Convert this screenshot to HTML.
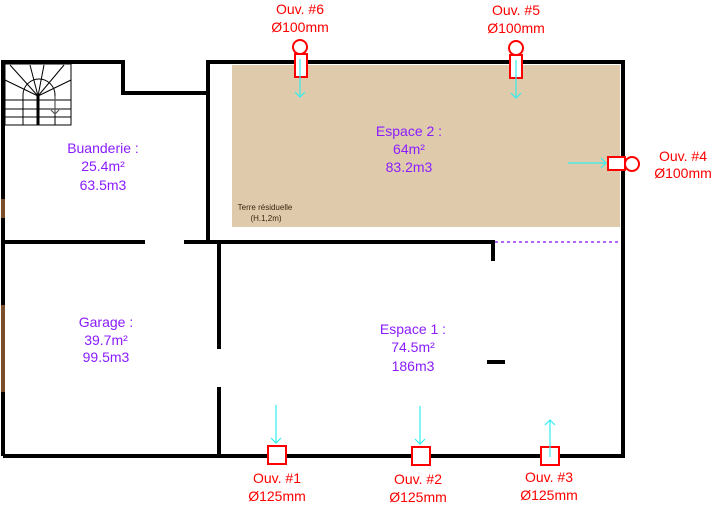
<!DOCTYPE html>
<html><head><style>body{margin:0;background:#fff}svg{display:block}text{font-family:"Liberation Sans",sans-serif}</style></head><body>
<svg width="712" height="506" viewBox="0 0 712 506" xmlns="http://www.w3.org/2000/svg">
<rect x="232" y="65" width="388" height="162" fill="#dfcbab"/>
<g stroke="#000" stroke-width="4" fill="none">
<polyline points="3,456 3,62 123,62 123,93 208,93"/>
<polyline points="208,242 208,62 623,62 623,456 3,456"/>
<line x1="3" y1="242" x2="145" y2="242"/>
<polyline points="184,242 493,242 493,261"/>
<line x1="219" y1="242" x2="219" y2="349"/>
<line x1="219" y1="387" x2="219" y2="456"/>
<line x1="487" y1="362" x2="505" y2="362"/>
</g>
<line x1="3" y1="199" x2="3" y2="218" stroke="#7a4e2a" stroke-width="4"/>
<line x1="3" y1="305" x2="3" y2="392" stroke="#7a4e2a" stroke-width="4"/>
<line x1="495" y1="242" x2="621" y2="242" stroke="#9933ff" stroke-width="1.5" stroke-dasharray="3,3"/>
<g stroke="#000" stroke-width="1" fill="none">
<rect x="5" y="64" width="66" height="61"/>
<line x1="5" y1="100" x2="71" y2="100"/><line x1="5" y1="109" x2="71" y2="109"/><line x1="5" y1="117" x2="71" y2="117"/>
<line x1="23" y1="95" x2="23" y2="125"/><line x1="55" y1="95" x2="55" y2="125"/>
<line x1="38" y1="96" x2="10" y2="65"/><line x1="38" y1="96" x2="30" y2="65"/><line x1="38" y1="96" x2="44" y2="65"/><line x1="38" y1="96" x2="64" y2="65"/>
<line x1="38" y1="96" x2="5" y2="80"/><line x1="38" y1="96" x2="71" y2="80"/>
<path d="M23,95 A16,16 0 0 1 55,95"/>
</g>
<line x1="38" y1="96" x2="38" y2="125" stroke="#000" stroke-width="3"/>
<path d="M55,96 V114 M51,110 L55,114 L59,110" stroke="#555" stroke-width="1.2" fill="none"/>
<g stroke="#ff0000" stroke-width="2" fill="#fff">
<rect x="295" y="54" width="12" height="23"/><circle cx="300" cy="47" r="7"/>
<rect x="510" y="55" width="12" height="23"/><circle cx="516" cy="48" r="7"/>
<rect x="608" y="157" width="17" height="13"/><circle cx="632" cy="164" r="7"/>
<rect x="268" y="446" width="18" height="18"/>
<rect x="412" y="447" width="18" height="18"/>
<rect x="541" y="447" width="18" height="18"/>
</g>
<g stroke="#33eeee" stroke-width="1.2" fill="none">
<path d="M300,59 V97 M295,92 L300,97 L305,92"/>
<path d="M516,60 V98 M511,93 L516,98 L521,93"/>
<path d="M568,163 H606 M601,158 L606,163 L601,168"/>
<path d="M276,405 V443 M271,438 L276,443 L281,438"/>
<path d="M420,406 V444 M415,439 L420,444 L425,439"/>
<path d="M550,457 V420 M545,425 L550,420 L555,425"/>
</g>
<g fill="#ff0000" font-size="14" text-anchor="middle">
<text x="300" y="14">Ouv. #6</text><text x="300" y="32">Ø100mm</text>
<text x="516" y="15">Ouv. #5</text><text x="516" y="33">Ø100mm</text>
<text x="683" y="161">Ouv. #4</text><text x="683" y="178">Ø100mm</text>
<text x="277" y="483">Ouv. #1</text><text x="277" y="501">Ø125mm</text>
<text x="418" y="484">Ouv. #2</text><text x="418" y="502">Ø125mm</text>
<text x="549" y="482">Ouv. #3</text><text x="549" y="500">Ø125mm</text>
</g>
<g fill="#8a1cff" font-size="14" text-anchor="middle">
<text x="103" y="153">Buanderie :</text><text x="103" y="171">25.4m²</text><text x="103" y="190">63.5m3</text>
<text x="106" y="327">Garage :</text><text x="106" y="345">39.7m²</text><text x="106" y="362">99.5m3</text>
<text x="409" y="136">Espace 2 :</text><text x="409" y="154">64m²</text><text x="409" y="172">83.2m3</text>
<text x="413" y="334">Espace 1 :</text><text x="413" y="352">74.5m²</text><text x="413" y="371">186m3</text>
</g>
<g fill="#3a2410" font-size="8" text-anchor="middle">
<text x="265" y="210">Terre résiduelle</text><text x="266" y="221">(H.1,2m)</text>
</g>
</svg>
</body></html>
